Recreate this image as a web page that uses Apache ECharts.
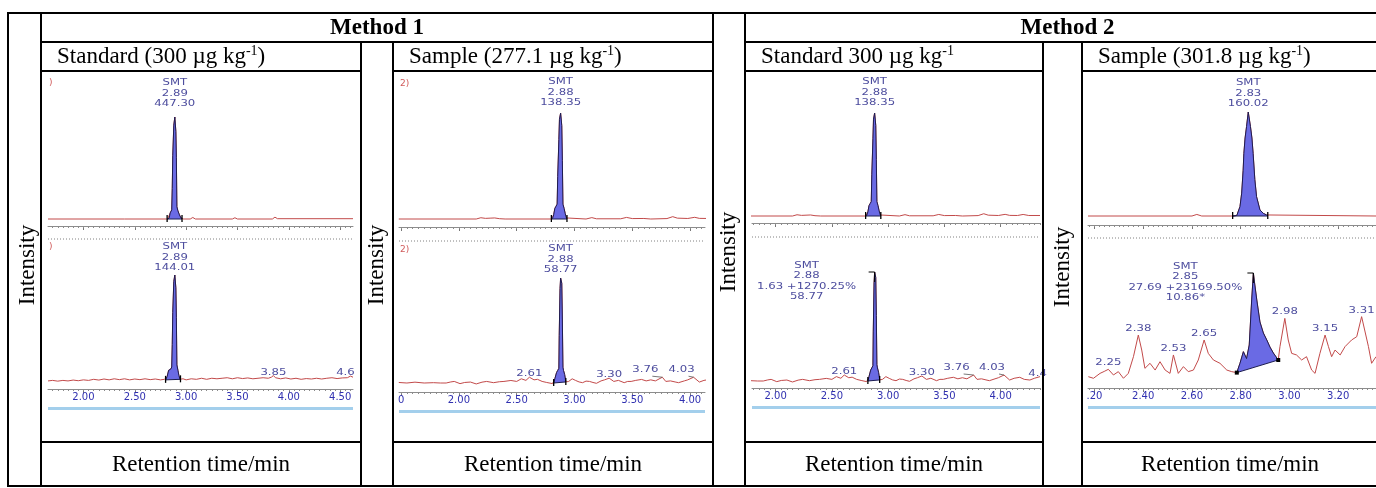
<!DOCTYPE html>
<html>
<head>
<meta charset="utf-8">
<title>Chromatograms</title>
<script src="https://cdn.jsdelivr.net/npm/echarts@6/dist/echarts.min.js"></script>
<style>
  html, body { margin: 0; padding: 0; background: #ffffff; }
  #chart { width: 1376px; height: 488px; }
</style>
</head>
<body>
<div id="chart"></div>
<script>
// ===================== DATA =====================
const methodTitles = ['Method 1', 'Method 2'];
const panelTitleMain = ['Standard (300 µg kg', 'Sample (277.1 µg kg', 'Standard 300 µg kg', 'Sample (301.8 µg kg'];
const panelTitleSup = ['-1', '-1', '-1', '-1'];
const panelTitleEnd = [')', ')', '', ')'];
const yAxisTitle = 'Intensity';
const xAxisTitle = 'Retention time/min';

// visible retention-time window (min) of each chromatogram crop
const p1Range = [1.655, 4.625];
const p2Range = [1.482, 4.129];
const p3Range = [1.790, 4.350];
const p4Range = [2.1736, 3.355];

// axis tick labels (value, visible text)
const p1TickValues = [2.00, 2.50, 3.00, 3.50, 4.00, 4.50];
const p1TickText = ['2.00', '2.50', '3.00', '3.50', '4.00', '4.50'];
const p2TickValues = [1.50, 2.00, 2.50, 3.00, 3.50, 4.00];
const p2TickText = ['0', '2.00', '2.50', '3.00', '3.50', '4.00'];
const p3TickValues = [2.00, 2.50, 3.00, 3.50, 4.00];
const p3TickText = ['2.00', '2.50', '3.00', '3.50', '4.00'];
const p4TickValues = [2.20, 2.40, 2.60, 2.80, 3.00, 3.20];
const p4TickText = ['.20', '2.40', '2.60', '2.80', '3.00', '3.20'];

// traces: [retention time (min), relative intensity (%)]
const p1Top = [[1.655,0],[2.40,0],[2.82,0],[2.835,1],[2.845,6],[2.86,9],[2.865,30],[2.87,62],[2.88,92],[2.89,100],[2.90,86],[2.905,60],[2.91,12],[2.92,8],[2.935,4],[2.95,1],[2.97,0],[3.04,0],[3.065,1.5],[3.09,0],[3.45,0],[3.475,1.2],[3.50,0],[3.84,0],[3.865,1.8],[3.89,0.3],[4.625,0.3]];
const p1Bottom = [[1.655,1],[1.70,1.5],[1.75,0.8],[1.80,1.5],[1.85,1],[1.90,1.8],[1.95,1.2],[2.00,2],[2.05,1.5],[2.10,2.5],[2.15,1.8],[2.20,2.8],[2.25,2],[2.30,3],[2.35,2.2],[2.40,3],[2.45,2],[2.50,2.8],[2.55,2.2],[2.60,3],[2.65,2.2],[2.70,2.8],[2.75,2],[2.79,2.5],[2.80,2],[2.815,5],[2.83,11],[2.85,12],[2.86,14],[2.865,35],[2.87,65],[2.88,94],[2.89,100],[2.90,88],[2.905,60],[2.91,16],[2.92,11],[2.93,6],[2.94,2.5],[2.97,3],[3.00,2],[3.05,3],[3.10,2.5],[3.15,3.5],[3.20,2.5],[3.25,3.5],[3.30,3],[3.35,3.5],[3.40,4],[3.45,3],[3.50,4],[3.55,3.2],[3.60,3.8],[3.65,3],[3.70,3.5],[3.75,4],[3.80,3.5],[3.83,4.5],[3.85,6],[3.87,4],[3.92,3],[3.97,3.8],[4.02,2.8],[4.07,3.5],[4.12,2.5],[4.17,3.2],[4.22,2.8],[4.27,3.5],[4.32,2.8],[4.37,3.5],[4.42,4],[4.47,3.2],[4.52,3.8],[4.57,4],[4.60,5.5],[4.625,4.5]];
const smtTop = [[1.48,0],[2.15,0],[2.19,1.2],[2.23,0.6],[2.27,0.8],[2.31,1],[2.35,0.3],[2.40,0],[2.80,0],[2.81,0.5],[2.82,4],[2.83,10],[2.84,12],[2.85,14],[2.855,40],[2.865,75],[2.87,94],[2.88,100],[2.89,88],[2.895,55],[2.90,14],[2.91,10],[2.92,5],[2.93,1],[2.94,0],[3.10,0],[3.15,1.3],[3.19,0.2],[3.40,0.2],[3.45,1.5],[3.50,0.4],[3.60,0.5],[3.66,0],[3.80,0.4],[3.85,2.2],[3.89,0.8],[3.98,0.5],[4.04,1.6],[4.08,0.6],[4.15,0.5],[4.20,1.5],[4.25,0.5],[4.35,0.5]];
const smtBottom = [[1.48,0.5],[1.55,0],[1.62,0.8],[1.70,0],[1.78,0.3],[1.84,0],[1.89,0],[1.93,1],[1.96,1.5],[2.01,-0.6],[2.05,0.5],[2.10,0.9],[2.15,-0.9],[2.20,0.8],[2.24,1.5],[2.30,0.3],[2.35,1.2],[2.39,1.5],[2.45,2.4],[2.50,1.5],[2.54,4],[2.58,2.5],[2.61,5.5],[2.65,3],[2.68,3.5],[2.72,1.5],[2.76,0.5],[2.81,-0.6],[2.82,0],[2.83,4],[2.845,10],[2.855,12],[2.865,14],[2.868,45],[2.875,90],[2.88,100],[2.89,95],[2.895,60],[2.90,15],[2.905,12],[2.915,8],[2.925,1],[2.95,1.5],[2.98,4],[3.01,2.4],[3.04,1],[3.07,0.3],[3.10,1.8],[3.13,1.5],[3.16,0.5],[3.19,-0.3],[3.23,2],[3.26,3],[3.30,4.6],[3.34,1.5],[3.38,2.5],[3.43,0.3],[3.46,1.5],[3.49,1.5],[3.53,2.5],[3.58,3.4],[3.62,2],[3.66,3],[3.70,2],[3.76,5.5],[3.79,1.5],[3.83,2],[3.87,1],[3.90,0.3],[3.95,2],[3.98,3],[4.03,5.5],[4.08,0.9],[4.12,2.5],[4.17,3.4],[4.21,1.5],[4.26,0.9],[4.30,2.5],[4.35,4]];
const p4Top = [[2.1736,0],[2.60,0],[2.62,1.5],[2.64,0],[2.767,0],[2.784,0.5],[2.797,9],[2.804,22],[2.810,44],[2.813,60],[2.818,75],[2.824,86],[2.831,100],[2.840,86],[2.846,75],[2.851,60],[2.858,35],[2.865,18.6],[2.879,5.8],[2.893,2.5],[2.906,1],[2.913,0],[3.355,0]];
const p4Bottom = [[2.175,3.1],[2.196,1.6],[2.223,6.2],[2.240,8],[2.257,10],[2.278,4.7],[2.298,7.8],[2.319,1.6],[2.339,6.2],[2.360,21.8],[2.380,42],[2.394,28],[2.407,10.9],[2.428,15.6],[2.449,9.3],[2.469,17.1],[2.490,9.3],[2.510,6.2],[2.524,23.4],[2.544,6.2],[2.565,12.5],[2.585,7.8],[2.606,9.3],[2.626,18.7],[2.650,37.4],[2.667,24.9],[2.688,18.7],[2.715,15.6],[2.743,9.3],[2.763,7.8],[2.784,6.9],[2.797,15.6],[2.811,26.5],[2.824,20],[2.835,32.7],[2.845,74.8],[2.852,100],[2.858,88.8],[2.866,74.8],[2.879,54.2],[2.893,43.9],[2.907,37.4],[2.920,30.8],[2.934,25.2],[2.954,18.7],[2.961,31.1],[2.981,57.6],[2.995,37.4],[3.009,24.9],[3.029,23.4],[3.050,18.7],[3.070,21.8],[3.091,9.3],[3.105,6.2],[3.125,24.9],[3.146,42],[3.160,31.2],[3.173,21.8],[3.187,28],[3.208,23.4],[3.228,31.2],[3.255,37.4],[3.276,40.5],[3.296,59.2],[3.324,31.2],[3.337,15.6],[3.355,21.8]];

// integrated peaks: [start time, start level, end time, end level]
const p1TopPeak = [2.815, 0, 2.96, 0];
const p1BottomPeak = [2.80, 2, 2.945, 2.5];
const smtTopPeak = [2.80, 0, 2.935, 0];
const smtBottomPeak = [2.82, 0, 2.925, 1];
const p4TopPeak = [2.767, 0, 2.911, 0];
const p4BottomPeak = [2.784, 6.9, 2.954, 18.7];

// peak annotations: [time, intensity, text]
const p1TopLabels = [[2.89, 100, 'SMT\n2.89\n447.30']];
const p1BottomLabels = [[2.89, 100, 'SMT\n2.89\n144.01'], [3.85, 6, '3.85'], [4.60, 5.5, '4.6']];
const p2TopLabels = [[2.88, 100, 'SMT\n2.88\n138.35']];
const p2BottomLabels = [[2.88, 100, 'SMT\n2.88\n58.77'], [2.61, 5.5, '2.61'], [3.30, 4.6, '3.30'], [3.76, 5.5, '3.76'], [4.03, 5.5, '4.03']];
const p3TopLabels = [[2.88, 100, 'SMT\n2.88\n138.35']];
const p3BottomLabels = [[2.88, 100, 'SMT\n2.88\n1.63 +1270.25%\n58.77'], [2.61, 5.5, '2.61'], [3.30, 4.6, '3.30'], [3.76, 5.5, '3.76'], [4.03, 5.5, '4.03'], [4.347, 4, '4.4']];
const p4TopLabels = [[2.831, 100, 'SMT\n2.83\n160.02']];
const p4BottomLabels = [[2.852, 100, 'SMT\n2.85\n27.69 +23169.50%\n10.86*'], [2.257, 10, '2.25'], [2.380, 42, '2.38'], [2.524, 23.4, '2.53'], [2.650, 37.4, '2.65'], [2.981, 57.6, '2.98'], [3.146, 42, '3.15'], [3.296, 59.2, '3.31']];
const traceMarkers = [')', '2)', '', ''];

// ===================== STYLE / LAYOUT =====================
const SERIF = '"Liberation Serif", "Times New Roman", serif';
const SANS = '"DejaVu Sans", Arial, sans-serif';
const TRACE = '#c24a4a';
const PEAK_FILL = '#6a6ae4';
const PEAK_EDGE = '#1c1c50';
const LABEL = '#4d4d9e';
const AXIS_LABEL = '#3030b0';
const RULER = '#8c8c8c';
const BAR = '#a3cfec';
const MARKER = '#d05a5a';

const PANELS = [
  { L: 48, R: 353, range: p1Range, ticks: p1TickValues, tickText: p1TickText, minorStep: 0.05, labelDy: 2,
    rows: [{ pk: 117, base: 219, ruler: 226 }, { pk: 275, base: 382, ruler: 389 }], dotted: 239, bar: 407, markerY: [83, 247] },
  { L: 399, R: 705, range: p2Range, ticks: p2TickValues, tickText: p2TickText, minorStep: 0.05, labelDy: 2,
    rows: [{ pk: 113, base: 219, ruler: 227 }, { pk: 278, base: 383, ruler: 392 }], dotted: 241, bar: 410, markerY: [84, 250] },
  { L: 752, R: 1040, range: p3Range, ticks: p3TickValues, tickText: p3TickText, minorStep: 0.05, labelDy: 2,
    rows: [{ pk: 113, base: 216, ruler: 223 }, { pk: 272, base: 381, ruler: 388 }], dotted: 237, bar: 406, markerY: [] },
  { L: 1088, R: 1376, range: p4Range, ticks: p4TickValues, tickText: p4TickText, minorStep: 0.02, labelDy: -1,
    rows: [{ pk: 112, base: 216, ruler: 225 }, { pk: 273, base: 380, ruler: 388 }], dotted: 238, bar: 406, markerY: [] }
];

const TRACES = [
  [{ data: p1Top, peak: p1TopPeak, labels: p1TopLabels }, { data: p1Bottom, peak: p1BottomPeak, labels: p1BottomLabels }],
  [{ data: smtTop, peak: smtTopPeak, labels: p2TopLabels }, { data: smtBottom, peak: smtBottomPeak, labels: p2BottomLabels }],
  [{ data: smtTop, peak: smtTopPeak, labels: p3TopLabels }, { data: smtBottom, peak: smtBottomPeak, labels: p3BottomLabels, flag: true }],
  [{ data: p4Top, peak: p4TopPeak, labels: p4TopLabels }, { data: p4Bottom, peak: p4BottomPeak, labels: p4BottomLabels, flag: true, dots: true }]
];

// label placement offsets in pixels: key = panel-row-index
const LABEL_OFFSETS = {
  '0-0-0': { dy: -8 }, '0-1-0': { dy: -2 }, '0-1-2': { dx: -5 },
  '1-0-0': { dy: -5 }, '1-1-0': { dy: -3 },
  '1-1-3': { dx: -17, dy: -2, leader: true }, '1-1-4': { dx: -12, dy: -2, leader: true },
  '2-0-0': { dy: -5 }, '2-1-0': { dx: -68, dy: 30 },
  '2-1-3': { dx: -17, dy: -2, leader: true }, '2-1-4': { dx: -12, dy: -2, leader: true }, '2-1-5': { dx: -2 },
  '3-0-0': { dy: -3 }, '3-1-0': { dx: -68, dy: 30 }
};

// table geometry
const TB = { x0: 8, xA: 41, x1: 361, xB: 393, x2: 713, xC: 745, x3: 1043, xD: 1082, x4: 1390, y0: 13, y1: 42, y2: 71, y3: 442, y4: 486 };

// ===================== BUILD =====================
function interpAt(data, t) {
  for (let i = 1; i < data.length; i++) {
    if (data[i][0] >= t) {
      const a = data[i - 1], b = data[i];
      return a[1] + (b[1] - a[1]) * (t - a[0]) / (b[0] - a[0]);
    }
  }
  return data[data.length - 1][1];
}
function minorTicks(range, step) {
  const out = [];
  const s = Math.ceil(range[0] / step - 1e-9), e = Math.floor(range[1] / step + 1e-9);
  for (let k = s; k <= e; k++) out.push(+(k * step).toFixed(4));
  return out;
}

const grids = [], xAxes = [], yAxes = [], series = [];
PANELS.forEach((P, pi) => {
  P.rows.forEach((R, ri) => {
    const gi = grids.length;
    const tr = TRACES[pi][ri];
    grids.push({ left: P.L, top: R.pk, width: P.R - P.L, height: R.ruler - R.pk });
    yAxes.push({ type: 'value', gridIndex: gi, min: -(R.ruler - R.base) / (R.base - R.pk) * 100, max: 100, show: false });
    xAxes.push({
      type: 'value', gridIndex: gi, min: P.range[0], max: P.range[1], position: 'bottom',
      axisLine: { show: true, onZero: false, lineStyle: { color: RULER, width: 1 } },
      axisTick: { show: true, customValues: P.ticks, length: 4, lineStyle: { color: '#777', width: 1 } },
      axisLabel: {
        show: ri === 1, customValues: P.ticks, margin: 3, color: AXIS_LABEL, fontSize: 10, fontFamily: SANS,
        formatter: (v) => { const i = P.ticks.findIndex(m => Math.abs(m - v) < 1e-6); return i >= 0 ? P.tickText[i] : ''; }
      },
      splitLine: { show: false }
    });
    xAxes.push({
      type: 'value', gridIndex: gi, min: P.range[0], max: P.range[1], position: 'bottom',
      axisLine: { show: false, onZero: false },
      axisTick: { show: true, customValues: minorTicks(P.range, P.minorStep), length: 2, lineStyle: { color: RULER, width: 1 } },
      axisLabel: { show: false }, splitLine: { show: false }
    });
    const xi = gi * 2;
    series.push({
      type: 'line', xAxisIndex: xi, yAxisIndex: gi, data: tr.data, symbol: 'none', silent: true,
      lineStyle: { color: TRACE, width: 1 }, z: 2
    });
    series.push({
      type: 'custom', xAxisIndex: xi, yAxisIndex: gi, coordinateSystem: 'cartesian2d', silent: true, z: 3,
      data: [[tr.peak[0], tr.peak[1]]],
      renderItem: (params, api) => {
        const [tS, vS, tE, vE] = tr.peak;
        const inner = tr.data.filter(p => p[0] > tS && p[0] < tE);
        const pts = [[tS, vS], [tS, interpAt(tr.data, tS)], ...inner, [tE, interpAt(tr.data, tE)], [tE, vE]].map(p => api.coord(p));
        const a = api.coord([tS, vS]), b = api.coord([tE, vE]);
        const ch = [{ type: 'polygon', shape: { points: pts }, style: { fill: PEAK_FILL, stroke: PEAK_EDGE, lineWidth: 1 } }];
        if (tr.dots) {
          ch.push({ type: 'rect', shape: { x: a[0] - 2, y: a[1] - 2, width: 4, height: 4 }, style: { fill: '#000' } });
          ch.push({ type: 'rect', shape: { x: b[0] - 2, y: b[1] - 2, width: 4, height: 4 }, style: { fill: '#000' } });
        } else {
          ch.push({ type: 'line', shape: { x1: a[0], y1: a[1] - 4, x2: a[0], y2: a[1] + 3 }, style: { stroke: '#000', lineWidth: 1.3 } });
          ch.push({ type: 'line', shape: { x1: b[0], y1: b[1] - 4, x2: b[0], y2: b[1] + 3 }, style: { stroke: '#000', lineWidth: 1.3 } });
        }
        if (tr.flag) {
          let top = tr.data[0];
          tr.data.forEach(p => { if (p[1] > top[1]) top = p; });
          const c = api.coord(top);
          ch.push({ type: 'polyline', shape: { points: [[c[0] - 6, c[1]], [c[0], c[1]], [c[0], c[1] + 10]] }, style: { stroke: '#000', fill: null, lineWidth: 1 } });
        }
        return { type: 'group', children: ch };
      }
    });
    series.push({
      type: 'custom', xAxisIndex: xi, yAxisIndex: gi, coordinateSystem: 'cartesian2d', silent: true, z: 4, clip: false,
      data: tr.labels.map(l => [l[0], l[1]]),
      renderItem: (params, api) => {
        const l = tr.labels[params.dataIndex];
        const p = api.coord([l[0], l[1]]);
        const o = LABEL_OFFSETS[pi + '-' + ri + '-' + params.dataIndex] || {};
        const dx = o.dx || 0, dy = (o.dy === undefined ? P.labelDy : o.dy);
        const lx = p[0] + dx, ly = p[1] + dy;
        const ch = [{
          type: 'text', x: lx, y: ly, scaleX: 1.3, scaleY: 1,
          style: { text: l[2], fill: LABEL, font: '9px ' + SANS, align: 'center', textAlign: 'center', verticalAlign: 'bottom', textVerticalAlign: 'bottom', lineHeight: 10.5 }
        }];
        if (o.leader) {
          ch.push({ type: 'line', shape: { x1: lx + 7, y1: ly + 1, x2: p[0], y2: p[1] }, style: { stroke: '#555', lineWidth: 0.8 } });
        }
        return { type: 'group', children: ch };
      }
    });
  });
});

// ---------- graphic: table, titles, decorations ----------
const G = [];
function hl(x1, x2, y) { G.push({ type: 'line', shape: { x1, y1: y, x2, y2: y }, style: { stroke: '#000', lineWidth: 2 }, z: 100, silent: true }); }
function vl(x, y1, y2) { G.push({ type: 'line', shape: { x1: x, y1, x2: x, y2 }, style: { stroke: '#000', lineWidth: 2 }, z: 100, silent: true }); }
function txt(x, y, text, font, opts) {
  G.push(Object.assign({ type: 'text', x, y, z: 101, silent: true,
    style: { text, font, fill: '#000', align: 'center', textAlign: 'center', verticalAlign: 'middle', textVerticalAlign: 'middle' } }, opts || {}));
}
hl(TB.x0 - 1, TB.x4, TB.y0);
hl(TB.xA, TB.x2, TB.y1); hl(TB.xC, TB.x4, TB.y1);
[TB.y2, TB.y3].forEach(y => { hl(TB.xA, TB.x1, y); hl(TB.xB, TB.x2, y); hl(TB.xC, TB.x3, y); hl(TB.xD, TB.x4, y); });
hl(TB.x0 - 1, TB.x4, TB.y4);
vl(TB.x0, TB.y0, TB.y4); vl(TB.xA, TB.y0, TB.y4); vl(TB.x1, TB.y1, TB.y4); vl(TB.xB, TB.y1, TB.y4);
vl(TB.x2, TB.y0, TB.y4); vl(TB.xC, TB.y0, TB.y4); vl(TB.x3, TB.y1, TB.y4); vl(TB.xD, TB.y1, TB.y4);

txt((TB.xA + TB.x2) / 2, 28, methodTitles[0], 'bold 23px ' + SERIF);
txt((TB.xC + TB.x4) / 2, 28, methodTitles[1], 'bold 23px ' + SERIF);

const cellLeft = [TB.xA, TB.xB, TB.xC, TB.xD];
const cellRight = [TB.x1, TB.x2, TB.x3, TB.x4 - 12];
const intensityX = [28, 377, 729, 1063];
const intensityY = [265, 265, 252, 267];
for (let i = 0; i < 4; i++) {
  const rich = '{a|' + panelTitleMain[i] + '}{s|' + panelTitleSup[i] + '}' + (panelTitleEnd[i] ? '{a|' + panelTitleEnd[i] + '}' : '');
  G.push({ type: 'text', x: cellLeft[i] + 16, y: 57, z: 101, silent: true,
    style: { text: rich, align: 'left', textAlign: 'left', verticalAlign: 'middle', textVerticalAlign: 'middle', fill: '#000',
      rich: { a: { fontSize: 23, fontFamily: SERIF, lineHeight: 26, fill: '#000', color: '#000' },
              s: { fontSize: 14, fontFamily: SERIF, lineHeight: 20, verticalAlign: 'top', fill: '#000', color: '#000' } } } });
  txt((cellLeft[i] + cellRight[i]) / 2, 465, xAxisTitle, '23px ' + SERIF);
  txt(intensityX[i], intensityY[i], yAxisTitle, '23px ' + SERIF, { rotation: Math.PI / 2 });
  const P = PANELS[i];
  G.push({ type: 'line', shape: { x1: P.L, y1: P.dotted, x2: P.R, y2: P.dotted }, style: { stroke: '#808080', lineWidth: 1, lineDash: [1, 2] }, z: 50, silent: true });
  G.push({ type: 'rect', shape: { x: P.L, y: P.bar, width: P.R - P.L, height: 3 }, style: { fill: BAR }, z: 50, silent: true });
  P.markerY.forEach(y => {
    G.push({ type: 'text', x: P.L + 1, y, z: 60, silent: true,
      style: { text: traceMarkers[i], font: '9px ' + SANS, fill: MARKER, align: 'left', textAlign: 'left', verticalAlign: 'middle', textVerticalAlign: 'middle' } });
  });
}

const chart = echarts.init(document.getElementById('chart'), null, { renderer: 'canvas' });
chart.setOption({
  animation: false,
  backgroundColor: '#ffffff',
  grid: grids, xAxis: xAxes, yAxis: yAxes, series: series,
  graphic: { elements: G }
});
</script>
</body>
</html>
